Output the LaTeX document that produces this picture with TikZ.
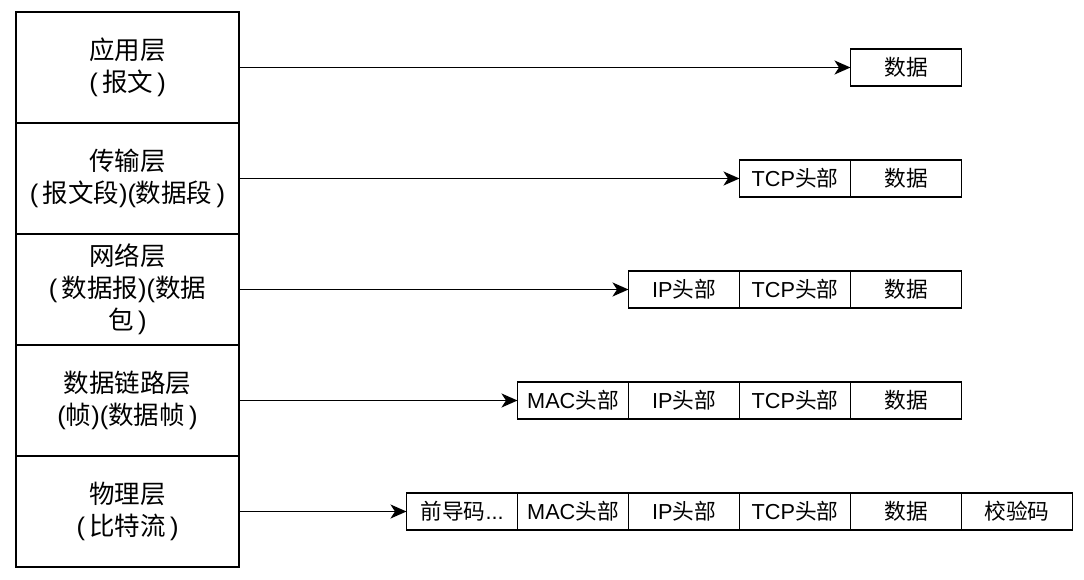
\documentclass[tikz,border=0pt]{standalone}
\usepackage{fontspec}
\setmainfont{Liberation Sans}
\newfontfamily\cjk{Noto Sans CJK SC}
\newcommand{\zh}[1]{{\cjk #1}}
\usetikzlibrary{arrows.meta}
\tikzset{
  layer/.style={draw, line width=1.9pt, minimum width=223pt, minimum height=111pt,
    inner sep=0pt, outer sep=0pt, align=center, font=\fontsize{25.5}{32}\selectfont},
  pkt/.style={draw, line width=1.9pt, minimum width=111pt, minimum height=37pt,
    inner sep=0pt, outer sep=0pt, font=\fontsize{21.7}{26}\selectfont},
  conn/.style={line width=1.8pt, -{Stealth[length=16pt,width=14pt,inset=4.5pt]}}
}
\begin{document}
\begin{tikzpicture}[x=1pt,y=-1pt]
\useasboundingbox (0,0) rectangle (1084,580);
% layer column
\node[layer] (L1) at (127.5,67.5) {\zh{应用层}\\(\,\zh{报文}\,)};
\node[layer] (L2) at (127.5,178.5) {\zh{传输层}\\(\,\zh{报文段})(\zh{数据段}\,)};
\node[layer] (L3) at (127.5,289.5) {\zh{网络层}\\(\,\zh{数据报})(\zh{数据}\\\zh{包}\,)};
\node[layer] (L4) at (127.5,400.5) {\zh{数据链路层}\\(\zh{帧})(\zh{数据帧}\,)};
\node[layer] (L5) at (127.5,511.5) {\zh{物理层}\\(\,\zh{比特流}\,)};
% row 1
\node[pkt] (a1) at (906,67.5) {\zh{数据}};
% row 2
\node[pkt] (b1) at (795,178.5) {TCP\zh{头部}};
\node[pkt] (b2) at (906,178.5) {\zh{数据}};
% row 3
\node[pkt] (c1) at (684,289.5) {IP\zh{头部}};
\node[pkt] (c2) at (795,289.5) {TCP\zh{头部}};
\node[pkt] (c3) at (906,289.5) {\zh{数据}};
% row 4
\node[pkt] (d1) at (573,400.5) {MAC\zh{头部}};
\node[pkt] (d2) at (684,400.5) {IP\zh{头部}};
\node[pkt] (d3) at (795,400.5) {TCP\zh{头部}};
\node[pkt] (d4) at (906,400.5) {\zh{数据}};
% row 5
\node[pkt] (e1) at (462,511.5) {\zh{前导码}...};
\node[pkt] (e2) at (573,511.5) {MAC\zh{头部}};
\node[pkt] (e3) at (684,511.5) {IP\zh{头部}};
\node[pkt] (e4) at (795,511.5) {TCP\zh{头部}};
\node[pkt] (e5) at (906,511.5) {\zh{数据}};
\node[pkt] (e6) at (1017,511.5) {\zh{校验码}};
% connectors
\draw[conn] (L1.east) -- (a1.west);
\draw[conn] (L2.east) -- (b1.west);
\draw[conn] (L3.east) -- (c1.west);
\draw[conn] (L4.east) -- (d1.west);
\draw[conn] (L5.east) -- (e1.west);
\end{tikzpicture}
\end{document}
